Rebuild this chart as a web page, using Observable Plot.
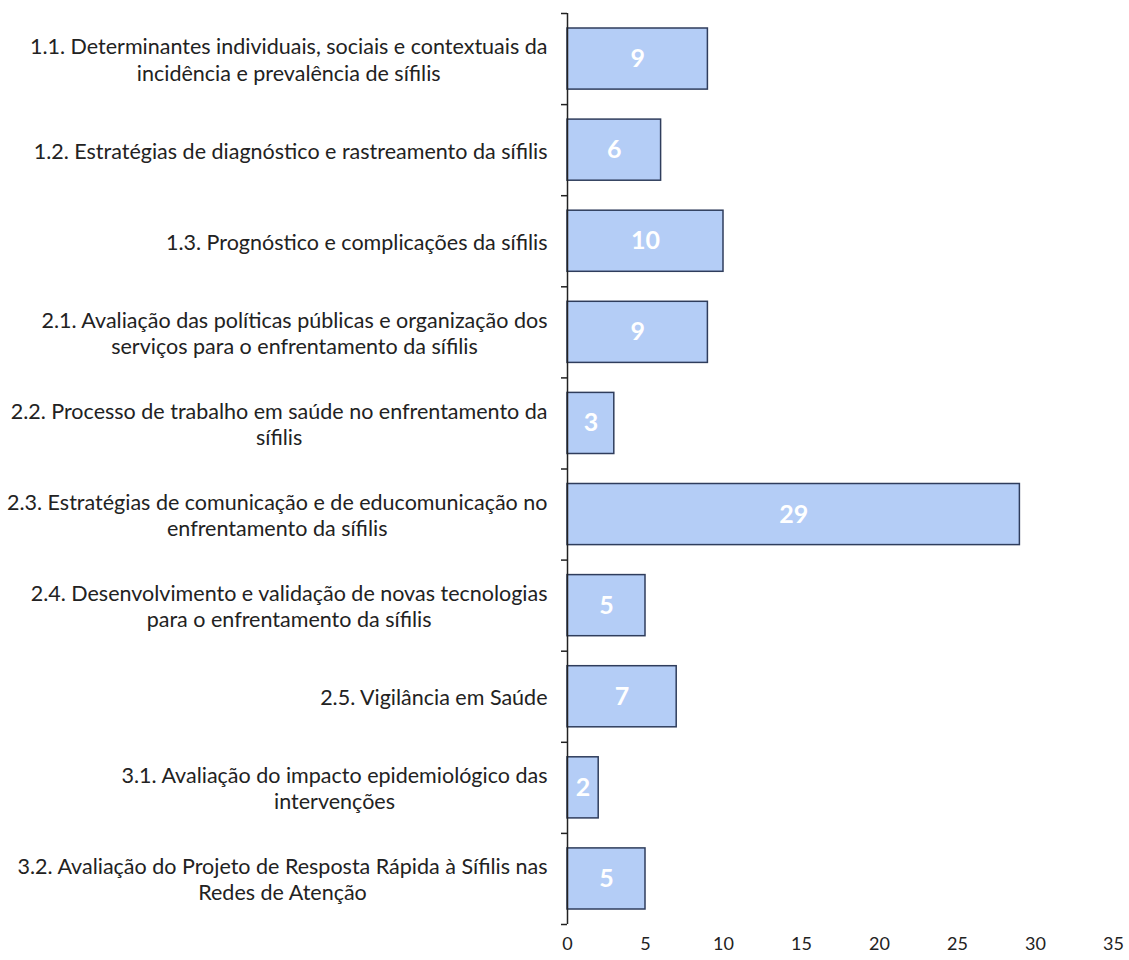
<!DOCTYPE html>
<html>
<head>
<meta charset="utf-8">
<script src="https://cdn.jsdelivr.net/npm/d3@7"></script>
<script src="https://cdn.jsdelivr.net/npm/@observablehq/plot@0.6"></script>
<style>
  html, body { margin: 0; padding: 0; background: #fff; }
</style>
</head>
<body>
<div id="chart"></div>
<script>
// Research lines and number of studies in each
const categories = [
  "1.1. Determinantes individuais, sociais e contextuais da\nincidência e prevalência de sífilis",
  "1.2. Estratégias de diagnóstico e rastreamento da sífilis",
  "1.3. Prognóstico e complicações da sífilis",
  "2.1. Avaliação das políticas públicas e organização dos\nserviços para o enfrentamento da sífilis",
  "2.2. Processo de trabalho em saúde no enfrentamento da\nsífilis",
  "2.3. Estratégias de comunicação e de educomunicação no\nenfrentamento da sífilis",
  "2.4. Desenvolvimento e validação de novas tecnologias\npara o enfrentamento da sífilis",
  "2.5. Vigilância em Saúde",
  "3.1. Avaliação do impacto epidemiológico das\nintervenções",
  "3.2. Avaliação do Projeto de Resposta Rápida à Sífilis nas\nRedes de Atenção"
];
const values = [9, 6, 10, 9, 3, 29, 5, 7, 2, 5];
const xTicks = [0, 5, 10, 15, 20, 25, 30, 35];

const n = categories.length;
const idx = d3.range(n);
const ink = "#222";
const edge = "#2f3d5c";

const chart = Plot.plot({
  width: 1129,
  height: 960,
  marginLeft: 567,
  marginRight: 16,
  marginTop: 13,
  marginBottom: 36,
  style: { fontFamily: "Lato, 'Open Sans', sans-serif", color: ink, background: "#fff" },
  x: { domain: [0, 35], label: null },
  y: { domain: [0, n], reverse: true, label: null },
  marks: [
    Plot.rectX(idx, {
      x1: 0, x2: i => values[i], y1: i => i, y2: i => i + 1,
      insetTop: 15, insetBottom: 15,
      fill: "#b4cdf6", stroke: edge, strokeWidth: 1.5
    }),
    Plot.text(idx, {
      x: i => values[i] / 2, y: i => i + 0.5, text: i => String(values[i]),
      fill: "#fff", fontWeight: "bold", fontSize: 25
    }),
    // category labels, left of the axis
    Plot.text(idx, {
      y: i => i + 0.5, text: i => categories[i],
      frameAnchor: "left", textAnchor: "end", dx: -20,
      lineHeight: 1.22, fontSize: 21.5, fill: ink, className: "cat-labels"
    }),
    Plot.ruleX([0], { stroke: ink, strokeWidth: 1.5 }),
    // boundary ticks between categories
    Plot.axisY({ ticks: d3.range(n + 1), tickSize: 6, tickFormat: () => "", stroke: ink, strokeWidth: 1.5, label: null }),
    Plot.axisX({ ticks: xTicks, tickSize: 0, tickPadding: 13, fontSize: 18, fill: ink, label: null })
  ]
});

document.getElementById("chart").appendChild(chart);

// centre each multi-line label block, keeping its right edge next to the axis
chart.querySelectorAll("g.cat-labels text").forEach(t => {
  const w = t.getBBox().width;
  t.setAttribute("text-anchor", "middle");
  const spans = t.querySelectorAll("tspan");
  if (spans.length) spans.forEach(s => s.setAttribute("x", -w / 2));
  else t.setAttribute("x", -w / 2);
});
</script>
</body>
</html>
